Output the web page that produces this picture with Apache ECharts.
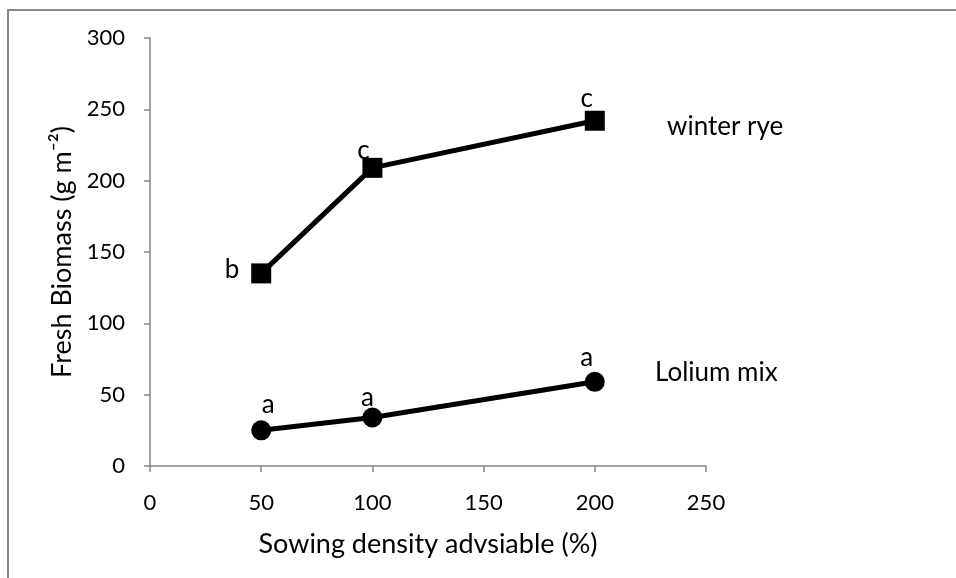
<!DOCTYPE html>
<html>
<head>
<meta charset="utf-8">
<script src="https://cdn.jsdelivr.net/npm/echarts@6/dist/echarts.min.js"></script>
<style>
  html, body { margin: 0; padding: 0; background: #fff; }
  #chart { width: 956px; height: 578px; }
</style>
</head>
<body>
<div id="chart"></div>
<script>
// sowing density (% of advisable)
const density = [50, 100, 200];
const ryeValues = [135, 209, 242];
const loliumValues = [25, 34, 59];
const ryeLetters = ['b', 'c', 'c'];
const loliumLetters = ['a', 'a', 'a'];

// label placement (style only)
const ryeLabelPos = ['left', 'top', 'top'];
const ryeLabelOffset = [[0, -4], [-9, 6], [-8, 1]];
const loliumLabelPos = ['top', 'top', 'top'];
const loliumLabelOffset = [[7, -3], [-5, 3], [-8, -1]];

const FONT = 'Lato, "Open Sans", sans-serif';
const axisGray = '#868686';

function buildData (xs, ys, letters, positions, offsets) {
    return xs.map(function (x, i) {
        return {
            value: [x, ys[i]],
            label: {
                show: true,
                formatter: letters[i],
                position: positions[i],
                distance: positions[i] === 'left' ? 12 : 0,
                offset: offsets[i]
            }
        };
    });
}

const chart = echarts.init(document.getElementById('chart'));

chart.setOption({
    backgroundColor: '#fff',
    animation: false,
    textStyle: { fontFamily: FONT },
    grid: { left: 150, right: 250, top: 38, bottom: 112 },
    xAxis: {
        type: 'value',
        min: 0,
        max: 250,
        interval: 50,
        name: 'Sowing density advsiable (%)',
        nameLocation: 'middle',
        nameGap: 65,
        nameTextStyle: { fontSize: 27, color: '#000', fontFamily: FONT },
        axisLine: { show: true, lineStyle: { color: axisGray, width: 1.5 } },
        axisTick: { show: true, inside: false, length: 6, lineStyle: { color: axisGray, width: 1.5 } },
        axisLabel: { fontSize: 22, color: '#000', margin: 26, fontFamily: FONT },
        splitLine: { show: false }
    },
    yAxis: {
        type: 'value',
        min: 0,
        max: 300,
        interval: 50,
        name: 'Fresh Biomass (g m\u207B\u00B2)',
        nameLocation: 'middle',
        nameGap: 74,
        nameRotate: 90,
        nameTextStyle: { fontSize: 27, color: '#000', fontFamily: FONT },
        axisLine: { show: true, lineStyle: { color: axisGray, width: 1.5 } },
        axisTick: { show: true, inside: false, length: 6, lineStyle: { color: axisGray, width: 1.5 } },
        axisLabel: { fontSize: 22, color: '#000', margin: 25, fontFamily: FONT },
        splitLine: { show: false }
    },
    graphic: [
        {
            type: 'rect',
            shape: { x: 8, y: 10, width: 1000, height: 600 },
            style: { fill: 'none', stroke: axisGray, lineWidth: 2 },
            silent: true
        },
        {
            type: 'text',
            x: 667,
            y: 127,
            style: { text: 'winter rye', fontSize: 26, fill: '#000', fontFamily: FONT, verticalAlign: 'middle' }
        },
        {
            type: 'text',
            x: 655,
            y: 373,
            style: { text: 'Lolium mix', fontSize: 26, fill: '#000', fontFamily: FONT, verticalAlign: 'middle' }
        }
    ],
    series: [
        {
            name: 'winter rye',
            type: 'line',
            data: buildData(density, ryeValues, ryeLetters, ryeLabelPos, ryeLabelOffset),
            symbol: 'rect',
            symbolSize: 20,
            itemStyle: { color: '#000' },
            lineStyle: { color: '#000', width: 5 },
            label: { color: '#000', fontSize: 26, fontFamily: FONT }
        },
        {
            name: 'Lolium mix',
            type: 'line',
            data: buildData(density, loliumValues, loliumLetters, loliumLabelPos, loliumLabelOffset),
            symbol: 'circle',
            symbolSize: 20,
            itemStyle: { color: '#000' },
            lineStyle: { color: '#000', width: 5 },
            label: { color: '#000', fontSize: 26, fontFamily: FONT }
        }
    ]
});
</script>
</body>
</html>
